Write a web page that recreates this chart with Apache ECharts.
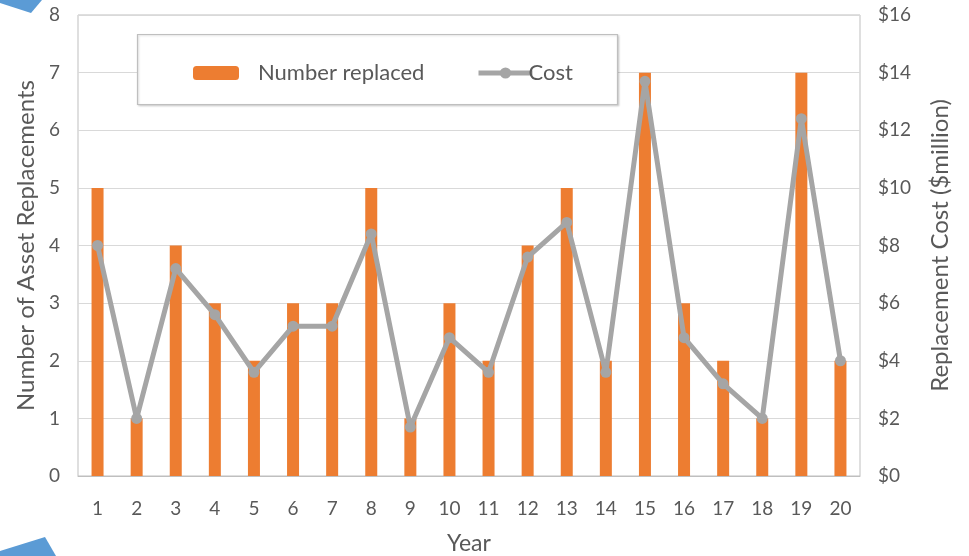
<!DOCTYPE html>
<html>
<head>
<meta charset="utf-8">
<script src="https://cdn.jsdelivr.net/npm/echarts@6/dist/echarts.min.js"></script>
<style>
  html, body { margin: 0; padding: 0; background: #fff; }
  #chart { width: 969px; height: 556px; }
</style>
</head>
<body>
<div id="chart"></div>
<script>
// Asset replacement schedule: count per year and total cost ($ million)
const years = ['1','2','3','4','5','6','7','8','9','10','11','12','13','14','15','16','17','18','19','20'];
const numberReplaced = [5, 1, 4, 3, 2, 3, 3, 5, 1, 3, 2, 4, 5, 2, 7, 3, 2, 1, 7, 2];
const costMillion = [8.0, 2.0, 7.2, 5.6, 3.6, 5.2, 5.2, 8.4, 1.7, 4.8, 3.6, 7.6, 8.8, 3.6, 13.7, 4.8, 3.2, 2.0, 12.4, 4.0];

const FONT = 'Lato';
const TEXT = '#595959';

const chart = echarts.init(document.getElementById('chart'), null, { renderer: 'canvas' });

chart.setOption({
  backgroundColor: '#ffffff',
  animation: false,
  textStyle: { fontFamily: FONT, color: TEXT },
  grid: {
    left: 78, right: 109, top: 15, bottom: 80,
    outerBoundsMode: 'none',
    containLabel: false,
    show: true, borderColor: '#BFBFBF', borderWidth: 1
  },
  graphic: [
    {
      type: 'rect', z: 10,
      shape: { x: 137.5, y: 34.5, width: 480, height: 70 },
      style: { fill: '#ffffff', stroke: '#BFBFBF', lineWidth: 1.2, shadowColor: 'rgba(0,0,0,0.15)', shadowBlur: 2, shadowOffsetX: 1, shadowOffsetY: 1 }
    },
    {
      type: 'polygon', z: 10,
      shape: { points: [[0, 0], [42, 0], [31, 13], [0, 3]] },
      style: { fill: '#5B9BD5' }
    },
    {
      type: 'polygon', z: 10,
      shape: { points: [[0, 551], [45, 537], [56, 556], [0, 556]] },
      style: { fill: '#5B9BD5' }
    }
  ],
  legend: [
    {
      data: ['Number replaced'],
      left: 188, top: 57, z: 20,
      itemWidth: 46, itemHeight: 14,
      textStyle: { fontFamily: FONT, fontSize: 22, color: TEXT, padding: [0, 0, 0, 14] }
    },
    {
      data: ['Cost'],
      left: 471, top: 57, z: 20,
      itemWidth: 54, itemHeight: 14, itemGap: 0,
      lineStyle: { width: 5, color: '#A5A5A5' },
      itemStyle: { color: '#A5A5A5' },
      textStyle: { fontFamily: FONT, fontSize: 22, color: TEXT, padding: [0, 0, 0, -9] }
    }
  ],
  xAxis: {
    type: 'category',
    data: years,
    name: 'Year',
    nameLocation: 'middle',
    nameGap: 56,
    nameTextStyle: { fontFamily: FONT, fontSize: 23, color: TEXT },
    axisLine: { show: true, lineStyle: { color: '#BFBFBF' } },
    axisTick: { show: false },
    axisLabel: { fontFamily: FONT, fontSize: 19, color: TEXT, margin: 23 }
  },
  yAxis: [
    {
      type: 'value',
      min: 0, max: 8, interval: 1,
      name: 'Number of Asset Replacements',
      nameLocation: 'middle',
      nameGap: 40,
      nameRotate: 90,
      nameTextStyle: { fontFamily: FONT, fontSize: 24, color: TEXT },
      axisLine: { show: false },
      axisTick: { show: false },
      axisLabel: { fontFamily: FONT, fontSize: 19, color: TEXT, margin: 18 },
      splitLine: { show: true, lineStyle: { color: '#D9D9D9', width: 1 } }
    },
    {
      type: 'value',
      min: 0, max: 16, interval: 2,
      name: 'Replacement Cost ($million)',
      nameLocation: 'middle',
      nameGap: 68,
      nameRotate: 90,
      nameTextStyle: { fontFamily: FONT, fontSize: 24, color: TEXT },
      axisLine: { show: false },
      axisTick: { show: false },
      axisLabel: { fontFamily: FONT, fontSize: 19, color: TEXT, margin: 18, formatter: v => '$' + v },
      splitLine: { show: false }
    }
  ],
  series: [
    {
      name: 'Number replaced',
      type: 'bar',
      yAxisIndex: 0,
      data: numberReplaced,
      barWidth: 12,
      itemStyle: { color: '#ED7D31' }
    },
    {
      name: 'Cost',
      type: 'line',
      yAxisIndex: 1,
      data: costMillion,
      symbol: 'circle',
      symbolSize: 11,
      lineStyle: { color: '#A5A5A5', width: 5 },
      itemStyle: { color: '#A5A5A5' }
    }
  ]
});
</script>
</body>
</html>
